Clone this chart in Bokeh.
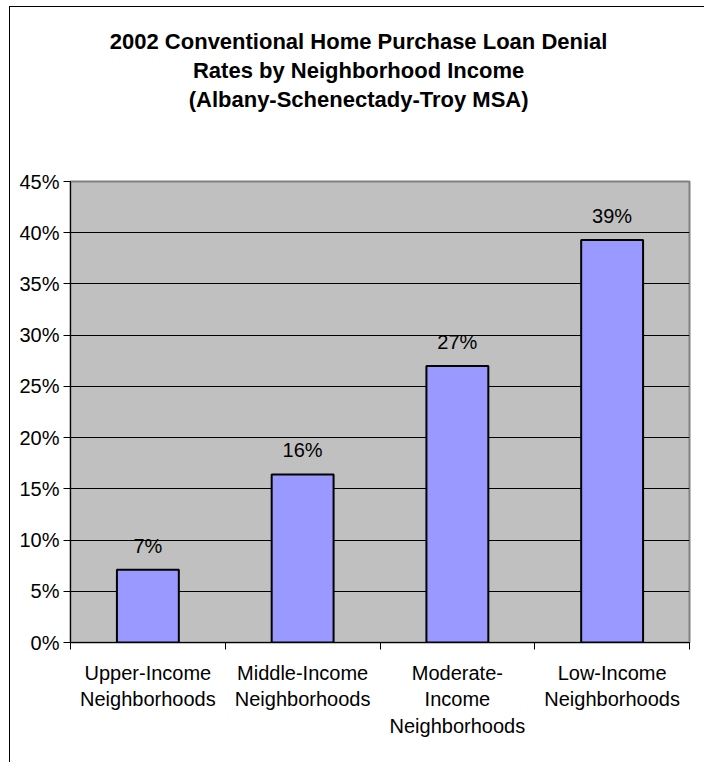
from bokeh.plotting import figure
from bokeh.models import (ColumnDataSource, FixedTicker, NumeralTickFormatter, LabelSet, Title, Range1d)
from bokeh.core.properties import value
from bokeh.embed import file_html
from bokeh.resources import INLINE

title_lines = ["2002 Conventional Home Purchase Loan Denial",
               "Rates by Neighborhood Income",
               "(Albany-Schenectady-Troy MSA)"]
categories = ["Upper-Income Neighborhoods", "Middle-Income Neighborhoods",
              "Moderate-Income Neighborhoods", "Low-Income Neighborhoods"]
tick_labels = ["Upper-Income\nNeighborhoods", "Middle-Income\nNeighborhoods",
               "Moderate-\nIncome\nNeighborhoods", "Low-Income\nNeighborhoods"]
denial_rates = [0.071, 0.164, 0.270, 0.393]
y_ticks = [0.0, 0.05, 0.10, 0.15, 0.20, 0.25, 0.30, 0.35, 0.40, 0.45]

FONT = "Liberation Sans"

xs = [i + 0.5 for i in range(len(categories))]
src = ColumnDataSource(dict(
    x=xs, top=denial_rates,
    lab=[f"{round(v * 100)}%" for v in denial_rates],
))

p = figure(width=695, height=756, output_backend="svg", toolbar_location=None,
           x_range=Range1d(0, len(categories)), y_range=Range1d(0, 0.45),
           min_border_left=60, min_border_right=16, min_border_top=174,
           min_border_bottom=121)
p.styles = {"margin-left": "9px", "margin-top": "6px",
            "border-left": "1px solid black", "border-top": "1px solid black"}

p.background_fill_color = "#C0C0C0"
p.border_fill_color = "white"
p.outline_line_color = "#808080"
p.outline_line_width = 2

p.vbar(x="x", top="top", bottom=0, width=0.4, source=src,
       fill_color="#9999FF", line_color="black", line_width=2)

p.add_layout(LabelSet(x="x", y="top", text="lab", source=src, y_offset=13,
                      text_align="center", text_baseline="bottom",
                      text_font=value(FONT), text_font_size="20px", text_color="black"))

# y axis
p.yaxis.ticker = FixedTicker(ticks=y_ticks)
p.yaxis.formatter = NumeralTickFormatter(format="0%")
p.yaxis.major_label_text_font = FONT
p.yaxis.major_label_text_font_size = "20px"
p.yaxis.major_label_text_color = "black"
p.yaxis.axis_line_color = "black"
p.yaxis.major_tick_line_color = "black"
p.yaxis.major_tick_out = 7
p.yaxis.major_tick_in = 0
p.yaxis.minor_tick_line_color = None
p.yaxis.major_label_standoff = 4

# x axis
p.xaxis.ticker = FixedTicker(ticks=xs, minor_ticks=list(range(len(categories) + 1)))
p.xaxis.major_label_overrides = {x: t for x, t in zip(xs, tick_labels)}
p.xaxis.major_label_text_font = FONT
p.xaxis.major_label_text_font_size = "20px"
p.xaxis.major_label_text_line_height = 1.22
p.xaxis.major_label_text_color = "black"
p.xaxis.axis_line_color = "black"
p.xaxis.major_tick_line_color = None
p.xaxis.minor_tick_line_color = "black"
p.xaxis.minor_tick_out = 7
p.xaxis.minor_tick_in = 0
p.xaxis.major_label_standoff = 12

p.xgrid.grid_line_color = None
p.ygrid.ticker = FixedTicker(ticks=y_ticks)
p.ygrid.grid_line_color = "black"
p.ygrid.grid_line_width = 1

# empty spacer between the frame and the title block
p.add_layout(Title(text="\u00a0", standoff=66, text_font_size="1px"), "above")

# title lines: added bottom-up so the first line ends on top;
# trailing no-break spaces centre them on the whole chart rather than the frame
pad = "\u00a0" * 7
for line in reversed(title_lines):
    p.add_layout(Title(text=line + pad, align="center", standoff=2,
                       text_font=FONT, text_font_size="22px",
                       text_font_style="bold", text_color="black"), "above")

open("out.html", "w").write(file_html(p, INLINE))
